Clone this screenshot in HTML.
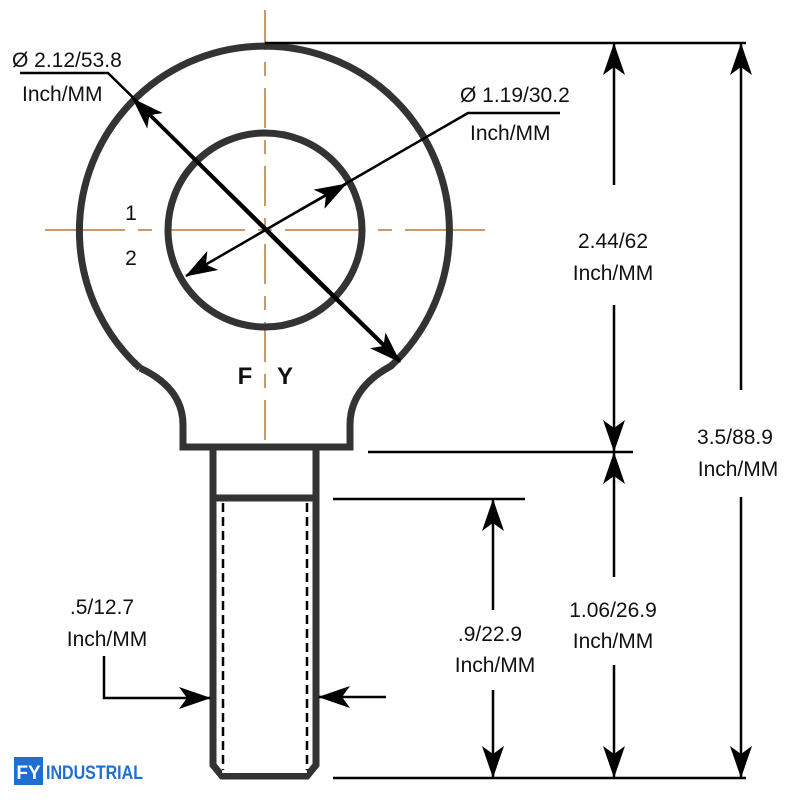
<!DOCTYPE html>
<html><head><meta charset="utf-8"><style>
html,body{margin:0;padding:0;background:#fff}
svg{display:block}
text{font-family:"Liberation Sans",sans-serif;fill:#111}
</style></head><body>
<svg width="800" height="800" viewBox="0 0 800 800" xmlns="http://www.w3.org/2000/svg">
<defs>
<marker id="ah" viewBox="0 0 32 22" refX="31" refY="11" markerWidth="32" markerHeight="22" markerUnits="userSpaceOnUse" orient="auto">
<path d="M0,0 L32,11 L0,22 L8,11 Z" fill="#000"/>
</marker>
</defs>
<g stroke="#b5783a" stroke-width="1.5" fill="none">
<line x1="265" y1="10" x2="265" y2="447" stroke-dasharray="40 12 14 12"/>
<line x1="45" y1="230" x2="485" y2="230" stroke-dasharray="80 13 14 13"/>
</g>
<g stroke="#333" stroke-width="7" fill="none" stroke-linejoin="miter">
<path d="M140 368 Q183 388 183 425 L183 447 L350 447 L350 425 Q350 388 391 366 A185 185 0 1 0 140 368"/>
<circle cx="265" cy="230" r="97"/>
</g>
<g stroke="#333" stroke-width="7" fill="none">
<path d="M213 450 L213 765 L222 776 L307 776 L316 765 L316 450"/>
<line x1="213" y1="498" x2="316" y2="498"/>
</g>
<line x1="222" y1="772" x2="307" y2="772" stroke="#fff" stroke-width="2"/>
<g stroke="#000" stroke-width="2.5" stroke-dasharray="9 5">
<line x1="223" y1="503" x2="223" y2="770"/>
<line x1="307" y1="503" x2="307" y2="770"/>
</g>
<g stroke="#000" stroke-width="2.5" fill="none">
<line x1="265" y1="43" x2="746" y2="43"/>
<line x1="368" y1="452" x2="633" y2="452"/>
<line x1="333" y1="499" x2="525" y2="499"/>
<line x1="333" y1="778" x2="746" y2="778"/>
<line x1="614" y1="185" x2="614" y2="44" marker-end="url(#ah)"/>
<line x1="614" y1="305" x2="614" y2="451" marker-end="url(#ah)"/>
<line x1="614" y1="577" x2="614" y2="453" marker-end="url(#ah)"/>
<line x1="614" y1="665" x2="614" y2="777" marker-end="url(#ah)"/>
<line x1="741" y1="390" x2="741" y2="44" marker-end="url(#ah)"/>
<line x1="741" y1="497" x2="741" y2="777" marker-end="url(#ah)"/>
<line x1="493" y1="610" x2="493" y2="500" marker-end="url(#ah)"/>
<line x1="493" y1="690" x2="493" y2="777" marker-end="url(#ah)"/>
<path d="M104 656 L104 698 L210 698" marker-end="url(#ah)"/>
<line x1="386" y1="697" x2="319" y2="697" marker-end="url(#ah)"/>
<path d="M20 73 L108 73 L400 360" />
<line x1="300" y1="265" x2="133" y2="99" marker-end="url(#ah)"/>
<line x1="300" y1="265" x2="400" y2="362" marker-end="url(#ah)"/>
<path d="M560 113 L468 113 L300 210"/>
<line x1="300" y1="210" x2="346" y2="184" marker-end="url(#ah)"/>
<line x1="300" y1="210" x2="186" y2="276" marker-end="url(#ah)"/>
</g>
<g font-size="21">
<text x="12" y="67">Ø 2.12/53.8</text>
<text x="22" y="101">Inch/MM</text>
<text x="460" y="102">Ø 1.19/30.2</text>
<text x="470" y="140">Inch/MM</text>
<text x="613" y="248" text-anchor="middle">2.44/62</text>
<text x="613" y="280" text-anchor="middle">Inch/MM</text>
<text x="735" y="444" text-anchor="middle">3.5/88.9</text>
<text x="738" y="476" text-anchor="middle">Inch/MM</text>
<text x="613" y="617" text-anchor="middle">1.06/26.9</text>
<text x="613" y="648" text-anchor="middle">Inch/MM</text>
<text x="490" y="641" text-anchor="middle">.9/22.9</text>
<text x="495" y="672" text-anchor="middle">Inch/MM</text>
<text x="102" y="614" text-anchor="middle">.5/12.7</text>
<text x="107" y="646" text-anchor="middle">Inch/MM</text>
<text x="131" y="220" text-anchor="middle">1</text>
<text x="131" y="265" text-anchor="middle">2</text>
</g>
<text x="245" y="384" font-size="24" font-weight="bold" text-anchor="middle">F</text>
<text x="285" y="384" font-size="24" font-weight="bold" text-anchor="middle">Y</text>
<rect x="14" y="757" width="29" height="28" fill="#1f6fd1"/>
<text x="28.5" y="779" font-size="19" font-weight="bold" text-anchor="middle" style="fill:#fff">FY</text>
<text x="46" y="779" font-size="19" font-weight="600" style="fill:#1f6fd1" textLength="97" lengthAdjust="spacingAndGlyphs">INDUSTRIAL</text>
</svg>
</body></html>
